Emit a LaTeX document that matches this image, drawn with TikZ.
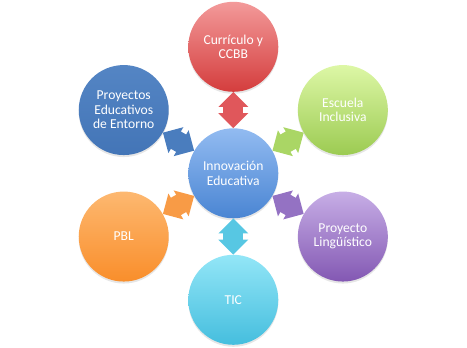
\documentclass[tikz,border=0pt]{standalone}
\usepackage{fontspec}
\setmainfont{Carlito}
\usepackage{tikz}
\usetikzlibrary{arrows.meta,shadows}

\definecolor{redT}{HTML}{F39A9A}\definecolor{redB}{HTML}{D43D3D}\definecolor{redA}{HTML}{E0575B}
\definecolor{grnT}{HTML}{DDF7A6}\definecolor{grnB}{HTML}{9CCB52}\definecolor{grnA}{HTML}{AAD665}
\definecolor{purT}{HTML}{C7AEE6}\definecolor{purB}{HTML}{8358B3}\definecolor{purA}{HTML}{9472C3}
\definecolor{cyaT}{HTML}{93E6F7}\definecolor{cyaB}{HTML}{45BEDE}\definecolor{cyaA}{HTML}{57C7E3}
\definecolor{oraT}{HTML}{FDB870}\definecolor{oraB}{HTML}{F98E2B}\definecolor{oraA}{HTML}{F89B46}
\definecolor{bluT}{HTML}{5485C4}\definecolor{bluB}{HTML}{4375B7}\definecolor{bluA}{HTML}{4A7DBE}
\definecolor{ctrT}{HTML}{92BBF1}\definecolor{ctrB}{HTML}{4A85D3}

\begin{document}
\begin{tikzpicture}[
  font=\fontsize{13.6}{14.4}\selectfont,
  topic/.style 2 args={circle, minimum size=90pt, inner sep=0pt, align=center,
    text=white, top color=#1, bottom color=#2,
    drop shadow={opacity=0.2, shadow xshift=0pt, shadow yshift=-2pt}},
  link/.style={line width=20pt, draw=#1,
    {Triangle[length=15pt,width=29pt]}-{Triangle[length=15pt,width=29pt]}}
]
\useasboundingbox (-233.3pt,-174.7pt) rectangle (233.7pt,173.3pt);
% centre and the six topics around it
\node[topic={ctrT}{ctrB}] (ctr) at (0,0) {Innovación\\Educativa};
\node[topic={redT}{redB}] (cur) at (90:126.5pt) {Currículo y\\CCBB};
\node[topic={grnT}{grnB}] (esc) at (30:126.5pt) {Escuela\\Inclusiva};
\node[topic={purT}{purB}] (lin) at (-30:126.5pt) {Proyecto\\Lingüístico};
\node[topic={cyaT}{cyaB}] (tic) at (-90:126.5pt) {TIC};
\node[topic={oraT}{oraB}] (pbl) at (-150:126.5pt) {PBL};
\node[topic={bluT}{bluB}] (pro) at (150:126.5pt) {Proyectos\\Educativos\\de Entorno};
% double arrows
\draw[link=redA] (ctr) -- (cur);
\draw[link=grnA] (ctr) -- (esc);
\draw[link=purA] (ctr) -- (lin);
\draw[link=cyaA] (ctr) -- (tic);
\draw[link=oraA] (ctr) -- (pbl);
\draw[link=bluA] (ctr) -- (pro);
\end{tikzpicture}
\end{document}
